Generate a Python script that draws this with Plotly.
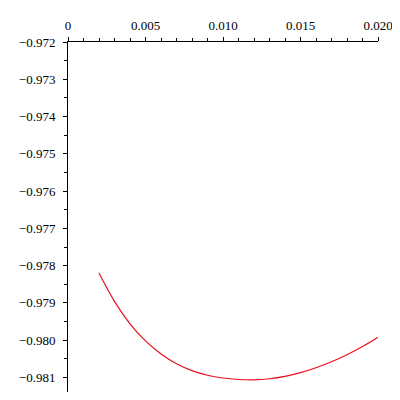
import plotly.graph_objects as go

# values, one per 0.001 step
x_vals = [0.002, 0.003, 0.004, 0.005, 0.006, 0.007, 0.008, 0.009, 0.010, 0.011,
          0.012, 0.013, 0.014, 0.015, 0.016, 0.017, 0.018, 0.019, 0.020]
y_vals = [-0.978200, -0.978960, -0.979560, -0.980020, -0.980370, -0.980630, -0.980815,
          -0.980940, -0.981015, -0.981055, -0.981065, -0.981035, -0.980970, -0.980870,
          -0.980740, -0.980580, -0.980390, -0.980170, -0.979920]

x_ticks = [0, 0.005, 0.010, 0.015, 0.020]
x_labels = ["0", "0.005", "0.010", "0.015", "0.020"]
y_ticks = [-0.972, -0.973, -0.974, -0.975, -0.976, -0.977, -0.978, -0.979, -0.980, -0.981]

fig = go.Figure()
fig.add_trace(go.Scatter(x=x_vals, y=y_vals, mode="lines",
                         line=dict(color="#e8101e", width=1.2, shape="spline")))

# page body has an 8px margin, so the figure is shrunk and shifted to fit
fig.update_layout(
    width=392, height=392,
    margin=dict(l=60, r=22, t=34, b=8),
    paper_bgcolor="white", plot_bgcolor="white",
    showlegend=False,
    font=dict(family="Times New Roman, Liberation Serif, serif", size=13, color="black"),
)
fig.update_xaxes(
    range=[0, 0.020], side="top", showgrid=False, zeroline=False, automargin=False,
    showline=True, linecolor="black", linewidth=1, ticklabeloverflow="allow",
    tickvals=x_ticks, ticktext=x_labels, ticks="outside", ticklen=4, tickcolor="black",
    ticklabelstandoff=2,
    minor=dict(dtick=0.001, ticks="outside", ticklen=3, tickcolor="black"),
)
fig.update_yaxes(
    range=[-0.98139, -0.972], showgrid=False, zeroline=False, automargin=False,
    showline=True, linecolor="black", linewidth=1,
    tickvals=y_ticks, tickformat=".3f", ticks="outside", ticklen=4, tickcolor="black",
    ticklabelstandoff=5,
    minor=dict(dtick=0.0005, ticks="outside", ticklen=3, tickcolor="black"),
)

fig.write_html("out.html")
